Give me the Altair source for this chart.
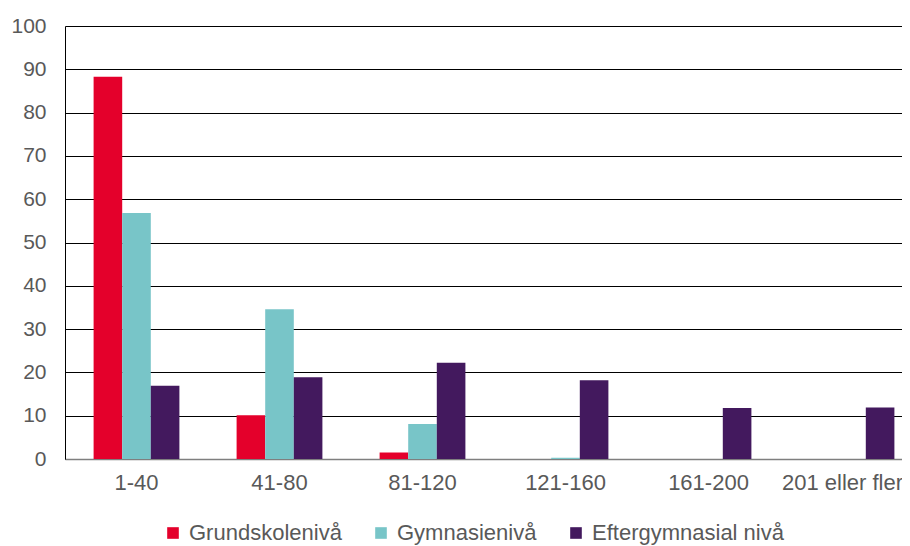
import altair as alt
import pandas as pd

categories = ["1-40", "41-80", "81-120", "121-160", "161-200", "201 eller fler"]
series = ["Grundskolenivå", "Gymnasienivå", "Eftergymnasial nivå"]
grund = [88.3, 10.1, 1.5, 0.0, 0.0, 0.0]
gymn = [56.8, 34.6, 8.1, 0.3, 0.0, 0.0]
efter = [16.9, 18.9, 22.2, 18.2, 11.8, 11.9]
colors = ["#E4002B", "#78C5C8", "#43195E"]

rows = []
for s, vals in zip(series, [grund, gymn, efter]):
    for c, v in zip(categories, vals):
        rows.append({"Kategori": c, "Serie": s, "Värde": v})
df = pd.DataFrame(rows)

chart = alt.Chart(df).mark_bar().encode(
    x=alt.X("Kategori:N", sort=categories,
            scale=alt.Scale(paddingInner=0.4, paddingOuter=0.2, range=[0, 858]),
            axis=alt.Axis(title=None, labelAngle=0, labelFontSize=22, labelColor="#595959",
                          labelFont="Liberation Sans", ticks=False, labelPadding=13,
                          domainColor="#7f7f7f", domainWidth=1.5, labelOverlap=False,
                          labelLimit=0,
                          labelOffset={"condition": {"test": "datum.value == '201 eller fler'",
                                                     "value": -9},
                                       "value": 0})),
    xOffset=alt.XOffset("Serie:N", sort=series, scale=alt.Scale(paddingInner=0, paddingOuter=0)),
    y=alt.Y("Värde:Q", scale=alt.Scale(domain=[0, 100], nice=False),
            axis=alt.Axis(title=None, values=list(range(0, 101, 10)), labelFontSize=21,
                          labelColor="#595959", labelFont="Liberation Sans", ticks=False,
                          labelPadding=19, domainColor="#000000", domainWidth=1,
                          gridColor="#000000", gridWidth=1)),
    color=alt.Color("Serie:N", sort=series,
                    scale=alt.Scale(domain=series, range=colors),
                    legend=alt.Legend(title=None, orient="none", direction="horizontal",
                                      legendX=97, legendY=496, symbolType="square",
                                      symbolSize=135, symbolStrokeWidth=0, labelFontSize=22,
                                      labelColor="#595959", labelFont="Liberation Sans",
                                      columnPadding=28, symbolOffset=0, labelOffset=5,
                                      labelLimit=0)),
).properties(
    width=837, height=433,
    autosize=alt.AutoSizeParams(type="none"),
    padding={"left": 57, "top": 18, "right": 0, "bottom": 90},
).configure_view(stroke=None)

chart.save("out.html", embed_options={"renderer": "svg", "actions": False})
